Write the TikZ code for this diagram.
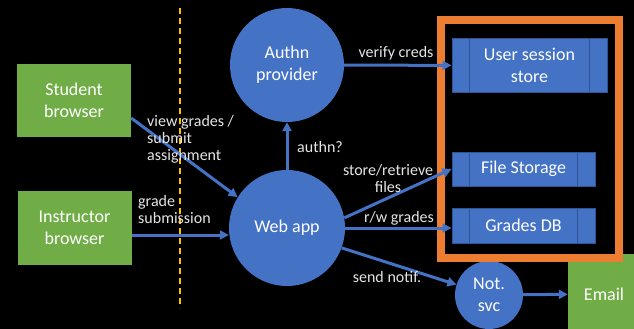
\documentclass[tikz,border=0pt]{standalone}
\usepackage{fontspec}
\setmainfont{Carlito}
\usetikzlibrary{arrows.meta}
\definecolor{obl}{HTML}{4472C4}
\definecolor{ogr}{HTML}{70AD47}
\definecolor{oor}{HTML}{ED7D31}
\definecolor{oye}{HTML}{FFC000}
\definecolor{dbl}{HTML}{2F5597}
\begin{document}
\begin{tikzpicture}[x=1pt,y=-1pt,>={Triangle[length=9pt,width=9pt]},
    box/.style={fill=ogr,text=white,align=center,font=\fontsize{18}{22}\selectfont},
    circ/.style={circle,fill=obl,text=white,align=center,inner sep=0pt,font=\fontsize{18}{22}\selectfont},
    store/.style={fill=obl,draw=dbl,line width=1pt,text=white,align=center,font=\fontsize{18}{22}\selectfont},
    lbl/.style={text=white!90!black,inner sep=0pt,font=\fontsize{16}{17}\selectfont},
    arr/.style={->,obl,line width=3pt}]
    \useasboundingbox(0,0)rectangle(634,329);
    \clip(0,0)rectangle(634,329);
    \fill(0,0)rectangle(634,329);
    \draw[oye,line width=1.5pt,dash pattern=on 6pt off 4pt](180,8)--(180,308);
    \node[box,minimum width=114pt,minimum height=73pt](student)at(74,100.5){Student\\browser};
    \node[box,minimum width=114pt,minimum height=74pt](instructor)at(74.5,228){Instructor\\browser};
    \node[circ,minimum size=114pt](authn)at(287,65){Authn\\provider};
    \node[circ,minimum size=116pt](webapp)at(287,228){Web app};
    \node[circ,minimum size=68pt](notsvc)at(489,295){Not.\\svc};
    \node[box,minimum width=72pt,minimum height=80pt](email)at(604,294){Email};
    \draw[oor,line width=8pt](441,20)rectangle(619,258);
    \node[store,minimum width=155pt,minimum height=53pt](usr)at(529.5,65.5){User session\\store};
    \node[store,minimum width=143pt,minimum height=34pt](files)at(523.5,169){File Storage};
    \node[store,minimum width=143pt,minimum height=35pt](grades)at(523.5,225.5){Grades DB};
    \foreach \s in {usr,files,grades}
        \draw[dbl,line width=1.5pt]([xshift=18pt]\s.north west)--([xshift=18pt]\s.south west)
            ([xshift=-18pt]\s.north east)--([xshift=-18pt]\s.south east);
    \draw[arr](student.-17)--(webapp.148);
    \draw[arr]([yshift=-7pt]instructor.east)--([yshift=-7pt]webapp.west);
    \draw[arr](webapp)--(authn);
    \draw[arr](authn)--(usr);
    \draw[arr](webapp.10)--(files.west);
    \draw[arr](webapp.east)--(webapp.east-|grades.west);
    \draw[arr](webapp.-20)--(notsvc);
    \draw[arr](notsvc)--(email);
    \node[lbl,align=left,anchor=north west](lview)at(147,115){view grades /\\submit\\assignment};
    \node[lbl,align=left,anchor=north west](lgrade)at(138,195){grade\\submission};
    \node[lbl,anchor=base west](lauthn)at(297,152){authn?};
    \node[lbl,anchor=base](lverify)at(396,58){verify creds};
    \node[lbl,align=center,anchor=north](lstore)at(388,164){store/retrieve\\files};
    \node[lbl,anchor=base](lrw)at(399,222){r/w grades};
    \node[lbl,anchor=base](lsend)at(387,282){send notif.};
\end{tikzpicture}
\end{document}
